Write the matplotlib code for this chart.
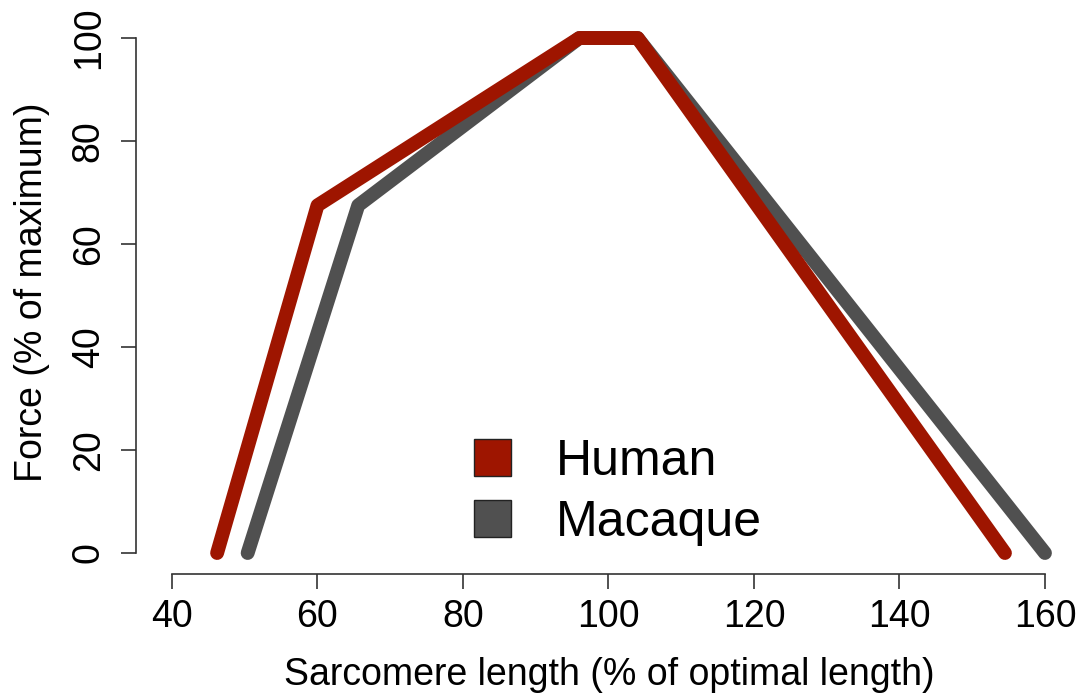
import matplotlib.pyplot as plt
from matplotlib.patches import Patch

plt.rcParams['font.family'] = ['Liberation Sans', 'DejaVu Sans']

# sarcomere length (% optimal) vs force (% max)
human_x = [46.2, 60, 96, 104, 154.5]
human_y = [0, 67.5, 100, 100, 0]
macaque_x = [50.4, 65.6, 96, 104, 160]
macaque_y = [0, 67.5, 100, 100, 0]

xticks = [40, 60, 80, 100, 120, 140, 160]
yticks = [0, 20, 40, 60, 80, 100]

red = '#9e1500'
grey = '#505050'

fig = plt.figure(figsize=(10.8, 7), dpi=100)
ax = fig.add_axes([136/1080, 1 - 574/700, (1059.5-136)/1080, (574-17.4)/700])

ax.plot(macaque_x, macaque_y, color=grey, lw=10, solid_capstyle='round', solid_joinstyle='round')
ax.plot(human_x, human_y, color=red, lw=10, solid_capstyle='round', solid_joinstyle='round')

ax.set_xlim(35.05, 162)
ax.set_ylim(-4.08, 104)

for s in ['top', 'right']:
    ax.spines[s].set_visible(False)
ax.spines['left'].set_bounds(0, 100)
ax.spines['bottom'].set_bounds(40, 160)
for s in ['left', 'bottom']:
    ax.spines[s].set_linewidth(1.2)
    ax.spines[s].set_color('#333333')

ax.set_xticks(xticks)
ax.set_yticks(yticks)
ax.tick_params(axis='both', length=11, width=1.2, color='#333333', labelsize=27)
ax.tick_params(axis='x', pad=7)
ax.tick_params(axis='y', pad=10)
for lab in ax.get_yticklabels():
    lab.set_rotation(90)
    lab.set_va('center')

ax.set_xlabel('Sarcomere length (% of optimal length)', fontsize=27)
ax.set_ylabel('Force (% of maximum)', fontsize=27)
ax.xaxis.set_label_coords(0.513, -0.15)
ax.yaxis.set_label_coords(-0.093, 0.507)

handles = [Patch(facecolor=red, edgecolor='#222222', lw=1),
           Patch(facecolor=grey, edgecolor='#222222', lw=1)]
ax.legend(handles, ['Human', 'Macaque'], loc='center left', bbox_to_anchor=(0.317, 0.146),
          frameon=False, fontsize=36, handlelength=0.75, handleheight=0.75,
          handletextpad=0.9, labelspacing=0.3)

fig.savefig('out.png', dpi=100)
